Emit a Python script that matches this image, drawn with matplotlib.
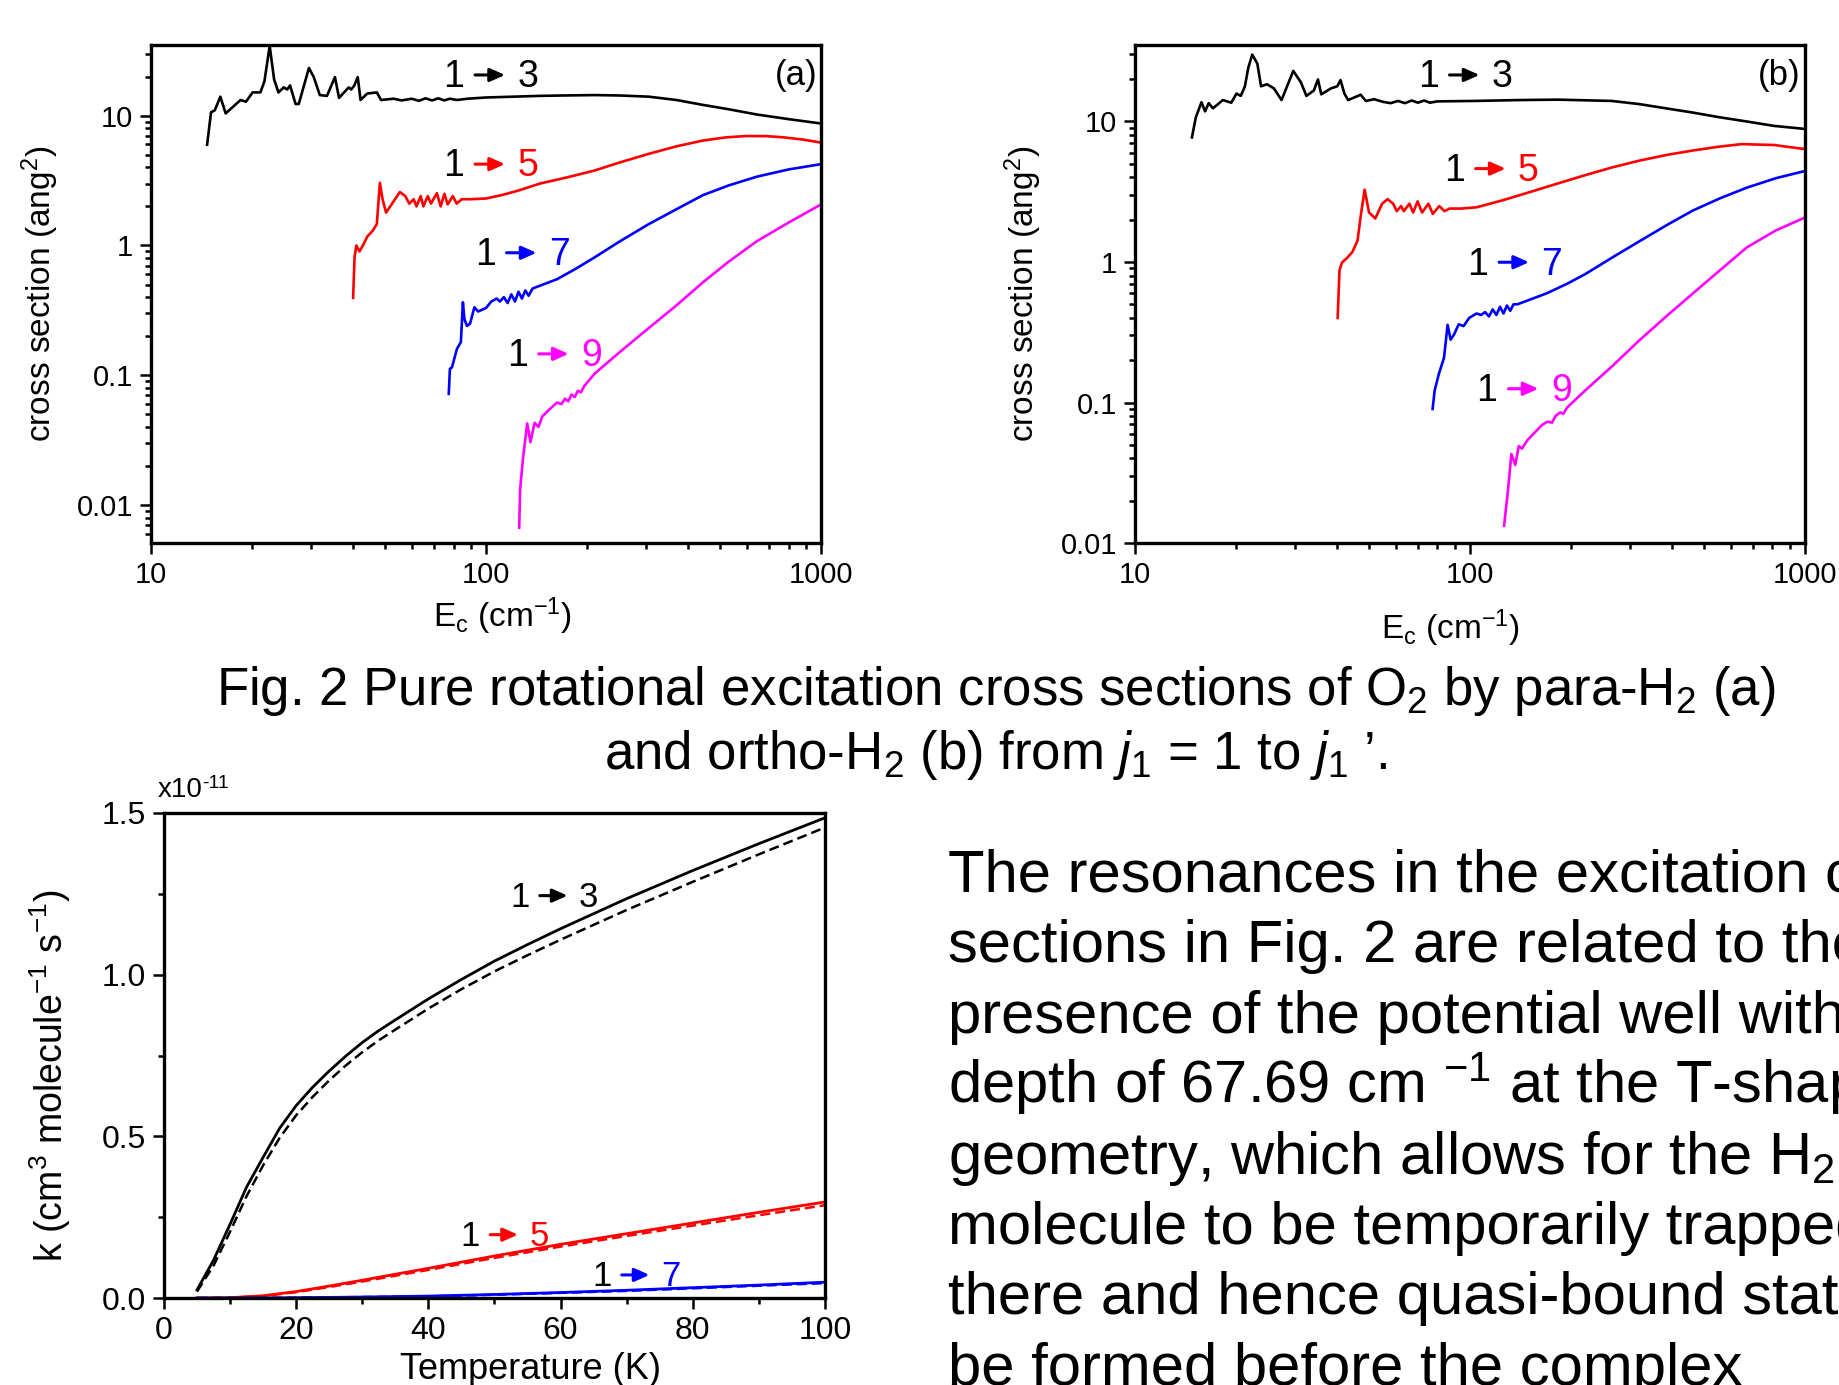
import matplotlib
matplotlib.use("Agg")
import matplotlib.pyplot as plt
from matplotlib.transforms import offset_copy
from matplotlib.ticker import FixedLocator, FuncFormatter, LogLocator, NullFormatter, MultipleLocator

plt.rcParams['font.family'] = ['Liberation Sans', 'DejaVu Sans']
plt.rcParams['mathtext.fontset'] = 'custom'
plt.rcParams['mathtext.rm'] = 'Liberation Sans'
plt.rcParams['mathtext.it'] = 'Liberation Sans:italic'
plt.rcParams['mathtext.bf'] = 'Liberation Sans:bold'

# ---------------- data: panel (a) para-H2 ----------------
Ea13 = [14.7, 15.1, 15.5, 16.1, 16.7, 18.5, 19.2, 20.1, 21.2, 21.8, 22.6, 23.3, 24.0, 24.9, 25.5, 26.0,
        27.0, 27.6, 29.6, 30.6, 31.9, 33.5, 35.4, 36.4, 38.9, 39.6, 40.4, 41.4, 42.2, 44.2, 47.2, 48.6,
        50, 53, 56, 60, 63, 66, 69, 72, 75, 78, 82, 88, 100, 145, 170, 211, 250, 306, 370, 444, 530,
        644, 800, 1000]
sa13 = [5.97, 10.6, 11.0, 14.0, 10.4, 13.2, 12.8, 15.1, 15.1, 18.4, 34.4, 19.0, 15.1, 16.5, 15.9, 17.1,
        12.3, 12.3, 23.3, 19.8, 14.4, 14.2, 19.8, 13.7, 16.5, 15.9, 17.0, 19.8, 13.2, 14.8, 15.1, 13.2,
        13.3, 13.5, 13.1, 13.5, 13.0, 13.6, 13.1, 13.6, 13.1, 13.5, 13.2, 13.5, 13.8, 14.2, 14.3, 14.4,
        14.3, 14.0, 13.2, 12.1, 11.2, 10.2, 9.4, 8.7]

Ea15 = [40.1, 40.5, 41.0, 41.9, 42.9, 44.2, 45.9, 47.2, 48.2, 49.1, 50.3, 55.3, 57.4, 59.0, 60.8, 62.0,
        63.8, 65.0, 67.0, 68.5, 71.3, 73.2, 75.1, 76.8, 79.6, 81.7, 84.6, 89.6, 100, 111.8, 125, 145, 175,
        211, 250, 306, 370, 444, 520, 598, 690, 776, 880, 1000]
sa15 = [0.395, 0.81, 1.0, 0.90, 1.0, 1.17, 1.30, 1.46, 3.04, 2.27, 1.79, 2.58, 2.4, 2.1, 2.27, 2.0,
        2.4, 2.0, 2.4, 2.1, 2.53, 2.0, 2.5, 2.07, 2.4, 2.1, 2.27, 2.27, 2.3, 2.45, 2.65, 3.0, 3.35,
        3.78, 4.35, 5.08, 5.8, 6.43, 6.8, 6.97, 6.95, 6.8, 6.55, 6.2]

Ea17 = [77.4, 78.0, 79.1, 81.9, 84.1, 85.3, 86.2, 87.7, 89.6, 92.3, 94.7, 100, 103.7, 107.6, 110, 113,
        116, 119, 122, 125, 128, 131, 134, 137.7, 163, 185, 211, 250, 306, 370, 444, 530, 644, 800, 1000]
sa17 = [0.072, 0.112, 0.115, 0.16, 0.18, 0.365, 0.27, 0.24, 0.25, 0.334, 0.31, 0.33, 0.37, 0.39, 0.37, 0.40,
        0.36, 0.42, 0.37, 0.44, 0.39, 0.45, 0.41, 0.466, 0.55, 0.66, 0.81, 1.07, 1.46, 1.9, 2.44, 2.9,
        3.39, 3.85, 4.23]

Ea19 = [125.6, 126.4, 128.9, 132.7, 135.7, 139.6, 143.5, 147, 155, 163, 168, 172, 176, 180, 184, 188,
        192, 196, 211, 250, 306, 370, 444, 530, 644, 800, 1000]
sa19 = [0.0067, 0.0132, 0.0228, 0.0426, 0.0306, 0.043, 0.040, 0.048, 0.055, 0.0617, 0.060, 0.066, 0.063,
        0.071, 0.068, 0.076, 0.074, 0.082, 0.103, 0.15, 0.231, 0.345, 0.52, 0.75, 1.08, 1.5, 2.07]

# ---------------- data: panel (b) ortho-H2 ----------------
Eb13 = [14.8, 15.2, 15.8, 16.2, 16.6, 17.1, 18.3, 19.4, 20.1, 20.7, 21.3, 21.8, 22.4, 23.2, 23.8, 24.8,
        26.0, 27.4, 29.7, 31.3, 32.5, 34.2, 35.2, 36.0, 38.5, 40.2, 41.1, 42.2, 43.3, 47.2, 48.9, 51.8,
        55, 58, 61, 64, 67, 70, 73, 76, 80, 104, 140, 183, 265, 320, 385, 460, 558, 670, 809, 1000]
sb13 = [7.7, 10.7, 13.7, 11.8, 13.5, 12.4, 14.2, 13.6, 15.8, 15.2, 17.8, 24.1, 29.9, 25.8, 17.8, 18.4,
        17.2, 14.2, 22.9, 19.0, 15.2, 16.6, 19.9, 15.6, 17.2, 17.8, 19.7, 15.8, 14.2, 15.5, 14.0, 14.4,
        13.8, 13.5, 14.0, 13.5, 14.1, 13.6, 14.1, 13.6, 13.9, 14.0, 14.2, 14.3, 14.0, 13.3, 12.4, 11.6,
        10.7, 10.0, 9.3, 8.85]

Eb15 = [40.3, 40.8, 41.5, 43.0, 44.6, 46.2, 47.2, 48.5, 50.0, 52.2, 54.7, 56.8, 59.0, 60.5, 62.3, 63.5,
        66.0, 67.7, 69.8, 72.0, 75.2, 77.5, 81.0, 84.0, 87.0, 94.0, 104.7, 126, 152, 185, 221, 265, 320,
        390, 464, 550, 647, 809, 1000]
sb15 = [0.40, 0.87, 0.99, 1.07, 1.18, 1.42, 2.11, 3.27, 2.25, 2.04, 2.6, 2.8, 2.6, 2.3, 2.5, 2.3,
        2.6, 2.25, 2.7, 2.25, 2.6, 2.2, 2.5, 2.3, 2.4, 2.4, 2.45, 2.76, 3.16, 3.65, 4.15, 4.7, 5.26,
        5.8, 6.22, 6.6, 6.9, 6.8, 6.36]

Eb17 = [77.4, 78.5, 80.8, 83.7, 85.8, 87.6, 89.7, 92.6, 95.8, 99.5, 104.7, 108, 111, 114, 117, 120, 123,
        126, 129, 132, 135, 138.7, 170, 195, 221, 265, 320, 390, 464, 560, 671, 820, 1000]
sb17 = [0.09, 0.122, 0.16, 0.208, 0.357, 0.28, 0.305, 0.36, 0.35, 0.40, 0.43, 0.42, 0.44, 0.41, 0.46,
        0.42, 0.48, 0.43, 0.49, 0.45, 0.50, 0.50, 0.60, 0.70, 0.82, 1.07, 1.4, 1.85, 2.33, 2.85, 3.38,
        3.95, 4.44]

Eb19 = [126.5, 130, 133, 136.6, 140, 143, 148.5, 164, 170, 176, 180, 186, 190, 195, 221, 265, 320, 390,
        464, 560, 671, 820, 1000]
sb19 = [0.0133, 0.024, 0.043, 0.036, 0.049, 0.047, 0.054, 0.069, 0.073, 0.072, 0.080, 0.085, 0.083,
        0.092, 0.122, 0.18, 0.276, 0.42, 0.60, 0.88, 1.27, 1.68, 2.07]

# ---------------- data: rate coefficients (x1e-11) ----------------
T13 = [5, 7.5, 10, 12.5, 15, 17.5, 20, 22.5, 25, 27.5, 30, 32.5, 35, 40, 45, 50, 55, 60, 70, 80, 90, 100]
k13_solid = [0.025, 0.117, 0.228, 0.343, 0.435, 0.525, 0.595, 0.652, 0.702, 0.748, 0.790, 0.827, 0.860,
             0.925, 0.985, 1.042, 1.093, 1.142, 1.235, 1.322, 1.405, 1.485]
k13_dash = [0.020, 0.100, 0.205, 0.315, 0.410, 0.495, 0.565, 0.622, 0.673, 0.719, 0.760, 0.797, 0.830,
            0.895, 0.955, 1.010, 1.060, 1.108, 1.200, 1.287, 1.372, 1.455]
T5 = [5, 10, 15, 20, 25, 30, 40, 50, 60, 70, 80, 90, 100]
k15_solid = [0.0, 0.001, 0.007, 0.020, 0.037, 0.055, 0.092, 0.130, 0.166, 0.199, 0.232, 0.265, 0.297]
k15_dash = [0.0, 0.001, 0.006, 0.018, 0.034, 0.051, 0.087, 0.124, 0.159, 0.192, 0.224, 0.256, 0.287]
k17_solid = [0.0, 0.0, 0.0003, 0.001, 0.002, 0.003, 0.006, 0.011, 0.017, 0.024, 0.032, 0.040, 0.049]
k17_dash = [0.0, 0.0, 0.0003, 0.001, 0.002, 0.003, 0.005, 0.010, 0.016, 0.022, 0.030, 0.038, 0.046]

xticks_log = [10, 100, 1000]
yticks_log = [0.01, 0.1, 1, 10]

caption1 = r"Fig. 2 Pure rotational excitation cross sections of O$_2$ by para-H$_2$ (a)"
caption2 = r"and ortho-H$_2$ (b) from $\mathit{j}_{\mathit{1}}$ = 1 to $\mathit{j}_{\mathit{1}}$ ’."
paragraph = ["The resonances in the excitation cross",
             "sections in Fig. 2 are related to the",
             "presence of the potential well with a",
             r"depth of 67.69 cm $^{\mathregular{-1}}$ at the T-shaped",
             r"geometry, which allows for the H$_2$",
             "molecule to be temporarily trapped",
             "there and hence quasi-bound states",
             "be formed before the complex"]

BLACK, RED, BLUE, MAG = 'black', '#ff0000', '#0000ff', '#ff00ff'

fig = plt.figure(figsize=(18.4, 13.85), dpi=100)
fig.patch.set_facecolor('white')

ax_a = fig.add_axes([0.0821, 0.6079, 0.3641, 0.3596])
ax_b = fig.add_axes([0.6168, 0.6079, 0.3641, 0.3596])
ax_k = fig.add_axes([0.0891, 0.0628, 0.3592, 0.3502])


def trans_label(ax, x, y, col, final, fs):
    t0 = ax.transAxes
    ax.text(x, y, '1', transform=t0, fontsize=fs, color='black', ha='left', va='baseline')
    ya = fs * 0.33
    start = offset_copy(t0, fig=fig, x=fs * 0.85, y=ya, units='points')
    end = offset_copy(t0, fig=fig, x=fs * 1.65, y=ya, units='points')
    ax.annotate('', xy=(x, y), xycoords=end, xytext=(x, y), textcoords=start,
                arrowprops=dict(arrowstyle='-|>,head_length=0.9,head_width=0.4', color=col,
                                lw=2.2, shrinkA=0, shrinkB=0, mutation_scale=10))
    ax.text(x, y, final, transform=offset_copy(t0, fig=fig, x=fs * 1.98, y=0, units='points'),
            fontsize=fs, color=col if final != '3' else 'black', ha='left', va='baseline')


def style_common(ax, labelsize):
    ax.tick_params(which='both', direction='out', top=False, right=False, width=1.8,
                   labelsize=labelsize, pad=5)
    ax.tick_params(which='major', length=8)
    ax.tick_params(which='minor', length=4)
    for s in ax.spines.values():
        s.set_linewidth(2.4)


def style_log(ax, ylo):
    ax.set_xscale('log')
    ax.set_yscale('log')
    ax.set_xlim(10, 1000)
    ax.set_ylim(ylo, 35)
    ax.xaxis.set_major_locator(FixedLocator(xticks_log))
    ax.yaxis.set_major_locator(FixedLocator(yticks_log))
    ax.xaxis.set_minor_locator(LogLocator(base=10, subs=range(2, 10)))
    ax.yaxis.set_minor_locator(LogLocator(base=10, subs=range(2, 10)))
    fmt = FuncFormatter(lambda v, p: '%g' % v)
    ax.xaxis.set_major_formatter(fmt)
    ax.yaxis.set_major_formatter(fmt)
    ax.xaxis.set_minor_formatter(NullFormatter())
    ax.yaxis.set_minor_formatter(NullFormatter())
    style_common(ax, 21)
    ax.set_ylabel(r"cross section (ang$^2$)", fontsize=24)
    ax.set_xlabel(r"E$_\mathregular{c}$ (cm$^{-1}$)", fontsize=24)


lw = 1.9
ax_a.plot(Ea13, sa13, color=BLACK, lw=lw)
ax_a.plot(Ea15, sa15, color=RED, lw=lw)
ax_a.plot(Ea17, sa17, color=BLUE, lw=lw)
ax_a.plot(Ea19, sa19, color=MAG, lw=lw)
style_log(ax_a, 0.0051)
ax_a.yaxis.set_label_coords(-0.134, 0.5)
ax_a.xaxis.set_label_coords(0.524, -0.147)
ax_a.xaxis.label.set_va('center')
ax_a.text(0.995, 0.92, '(a)', transform=ax_a.transAxes, fontsize=25, ha='right', va='baseline')
trans_label(ax_a, 0.436, 0.915, BLACK, '3', 27)
trans_label(ax_a, 0.436, 0.736, RED, '5', 27)
trans_label(ax_a, 0.483, 0.558, BLUE, '7', 27)
trans_label(ax_a, 0.531, 0.355, MAG, '9', 27)

ax_b.plot(Eb13, sb13, color=BLACK, lw=lw)
ax_b.plot(Eb15, sb15, color=RED, lw=lw)
ax_b.plot(Eb17, sb17, color=BLUE, lw=lw)
ax_b.plot(Eb19, sb19, color=MAG, lw=lw)
style_log(ax_b, 0.01)
ax_b.yaxis.set_label_coords(-0.136, 0.5)
ax_b.xaxis.set_label_coords(0.471, -0.171)
ax_b.xaxis.label.set_va('center')
ax_b.text(0.994, 0.92, '(b)', transform=ax_b.transAxes, fontsize=25, ha='right', va='baseline')
trans_label(ax_b, 0.422, 0.915, BLACK, '3', 27)
trans_label(ax_b, 0.461, 0.727, RED, '5', 27)
trans_label(ax_b, 0.496, 0.539, BLUE, '7', 27)
trans_label(ax_b, 0.510, 0.285, MAG, '9', 27)

# rate coefficient panel
ax_k.plot(T13, k13_solid, color=BLACK, lw=2.0)
ax_k.plot(T13, k13_dash, color=BLACK, lw=1.8, ls=(0, (4, 2)))
ax_k.plot(T5, k15_solid, color=RED, lw=2.0)
ax_k.plot(T5, k15_dash, color=RED, lw=1.8, ls=(0, (4, 2)))
ax_k.plot(T5, k17_solid, color=BLUE, lw=2.0)
ax_k.plot(T5, k17_dash, color=BLUE, lw=1.8, ls=(0, (4, 2)))
ax_k.set_xlim(0, 100)
ax_k.set_ylim(0, 1.5)
ax_k.xaxis.set_major_locator(MultipleLocator(20))
ax_k.xaxis.set_minor_locator(MultipleLocator(10))
ax_k.yaxis.set_major_locator(MultipleLocator(0.5))
ax_k.yaxis.set_minor_locator(MultipleLocator(0.25))
ax_k.yaxis.set_major_formatter(FuncFormatter(lambda v, p: '%.1f' % v))
style_common(ax_k, 23)
ax_k.set_ylabel(r"k (cm$^3$ molecule$^{-1}$ s$^{-1}$)", fontsize=27)
ax_k.set_xlabel("Temperature (K)", fontsize=26)
ax_k.yaxis.set_label_coords(-0.138, 0.458)
ax_k.xaxis.set_label_coords(0.554, -0.147)
ax_k.xaxis.label.set_va('center')
ax_k.text(-0.01, 1.02, "x10", transform=ax_k.transAxes, fontsize=20, ha='left', va='bottom')
ax_k.text(-0.01, 1.02, "-11",
          transform=offset_copy(ax_k.transAxes, fig=fig, x=32, y=8, units='points'),
          fontsize=14, ha='left', va='bottom')
trans_label(ax_k, 0.524, 0.806, BLACK, '3', 25)
trans_label(ax_k, 0.449, 0.107, RED, '5', 25)
trans_label(ax_k, 0.648, 0.024, BLUE, '7', 25)

# caption and text
fig.text(0.541, 0.491, caption1, fontsize=38, ha='center', va='baseline')
fig.text(0.541, 0.445, caption2, fontsize=38, ha='center', va='baseline')
para_y = [892, 962, 1033, 1103, 1174, 1244, 1314, 1385]
for line, yp in zip(paragraph, para_y):
    fig.text(948 / 1840, 1 - yp / 1385, line, fontsize=43, ha='left', va='baseline')

fig.savefig('out.png', dpi=100, facecolor='white')
